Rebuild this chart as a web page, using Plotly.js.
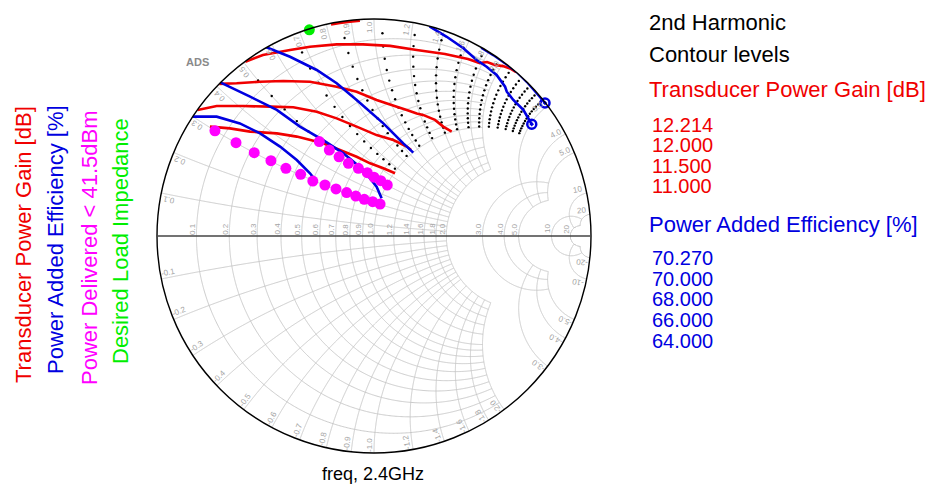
<!DOCTYPE html>
<html>
<head>
<meta charset="utf-8">
<script src="https://cdn.plot.ly/plotly-3.0.1.min.js"></script>
<style>
  html, body { margin: 0; padding: 0; background: #ffffff; }
  #chart { width: 932px; height: 486px; }
</style>
</head>
<body>
<div id="chart"></div>
<script>
// Load-pull results at 2.4 GHz, 2nd harmonic, as reflection coefficients (re, im)

// Transducer power gain contours [dB]
const gainLevels = ['12.214', '12.000', '11.500', '11.000'];
const gain12214Re = [-0.198, -0.157, -0.111, -0.065];
const gain12214Im = [0.975, 0.982, 0.988, 0.992];
const gain12000Re = [-0.593, -0.512, -0.387, -0.295, -0.172, -0.051, 0.074, 0.197, 0.327, 0.433, 0.488, 0.521, 0.558, 0.594, 0.627, 0.655];
const gain12000Im = [0.803, 0.834, 0.857, 0.872, 0.883, 0.883, 0.876, 0.857, 0.839, 0.816, 0.797, 0.802, 0.788, 0.783, 0.772, 0.755];
const gain11500Re = [-0.713, -0.633, -0.525, -0.418, -0.295, -0.172, -0.080, 0.012, 0.105, 0.151, 0.197, 0.226, 0.281, 0.319, 0.358];
const gain11500Im = [0.701, 0.704, 0.711, 0.714, 0.711, 0.688, 0.665, 0.627, 0.596, 0.581, 0.565, 0.558, 0.535, 0.504, 0.481];
const gain11000aRe = [-0.813, -0.725, -0.602, -0.479, -0.372, -0.264, -0.172, -0.080, 0.012, 0.089, 0.151, 0.171];
const gain11000aIm = [0.581, 0.599, 0.599, 0.596, 0.593, 0.573, 0.542, 0.504, 0.465, 0.442, 0.412, 0.396];
const gain11000bRe = [-0.756, -0.664, -0.571, -0.448, -0.356, -0.234, -0.157, -0.080, -0.018, 0.043, 0.097];
const gain11000bIm = [0.504, 0.496, 0.481, 0.473, 0.458, 0.427, 0.396, 0.365, 0.335, 0.312, 0.289];

// Power added efficiency contours [%]
const paeLevels = ['70.270', '70.000', '68.000', '66.000', '64.000'];
const pae70270Re = [0.494, 0.550, 0.604, 0.614, 0.658, 0.704, 0.750, 0.788];
const pae70270Im = [0.868, 0.834, 0.796, 0.789, 0.757, 0.711, 0.658, 0.613];
const pae70000Re = [0.256, 0.335, 0.412, 0.473, 0.519, 0.565, 0.604, 0.612, 0.642, 0.688, 0.727];
const pae70000Im = [0.966, 0.918, 0.865, 0.811, 0.780, 0.742, 0.688, 0.665, 0.627, 0.581, 0.515];
const pae68000Re = [-0.502, -0.387, -0.264, -0.172, -0.080, 0.043, 0.135, 0.181];
const pae68000Im = [0.872, 0.826, 0.765, 0.704, 0.627, 0.519, 0.427, 0.384];
const pae66000Re = [-0.706, -0.571, -0.448, -0.341, -0.234, -0.141, -0.049, 0.012, 0.035];
const pae66000Im = [0.707, 0.642, 0.581, 0.504, 0.442, 0.381, 0.304, 0.227, 0.174];
const pae64000Re = [-0.835, -0.725, -0.618, -0.525, -0.433, -0.356, -0.295, -0.264];
const pae64000Im = [0.550, 0.550, 0.519, 0.473, 0.412, 0.350, 0.289, 0.250];

// Points of maximum PAE
const paeMaxRe = [0.727, 0.788];
const paeMaxIm = [0.515, 0.613];

// Loads where delivered power falls below 41.5 dBm
const lowPowerRe = [-0.733, -0.636, -0.552, -0.475, -0.406, -0.338, -0.282, -0.226, -0.175, -0.126, -0.084, -0.045, -0.006, 0.028,
                    -0.252, -0.206, -0.161, -0.118, -0.072, -0.031, 0.000, 0.031, 0.061];
const lowPowerIm = [0.485, 0.430, 0.384, 0.347, 0.312, 0.284, 0.253, 0.235, 0.217, 0.200, 0.184, 0.169, 0.158, 0.147,
                    0.435, 0.396, 0.365, 0.335, 0.312, 0.292, 0.271, 0.255, 0.235];

// Desired load
const desiredRe = [-0.298];
const desiredIm = [0.950];

// Swept load impedances (normalized resistance and reactance)
const sweepR = [0.07, 0.14, 0.21, 0.28, 0.35, 0.42, 0.49, 0.56, 0.63, 0.70, 0.77, 0.84, 0.91, 0.98];
const sweepX = [0.50, 0.68, 0.86, 1.04, 1.22, 1.40, 1.58, 1.76, 1.94, 2.12, 2.30, 2.48, 2.66, 2.84];

// Smith chart grid: resistance circles / reactance arcs and where each family stops
const rTicks = [0.1, 0.2, 0.3, 0.4, 0.5, 0.6, 0.7, 0.8, 0.9, 1.0, 1.2, 1.4, 1.6, 1.8, 2.0, 3.0, 4.0, 5.0, 10, 20];
const rTickText = ['0.1', '0.2', '0.3', '0.4', '0.5', '0.6', '0.7', '0.8', '0.9', '1.0', '1.2', '1.4', '1.6', '1.8', '2.0', '3.0', '4.0', '5.0', '10', '20'];
const xTicks = [0.1, 0.2, 0.3, 0.4, 0.5, 0.6, 0.7, 0.8, 0.9, 1.0, 1.2, 1.4, 1.6, 1.8, 2.0, 3.0, 4.0, 5.0, 10, 20];
const xTickText = ['0.1', '0.2', '0.3', '0.4', '0.5', '0.6', '0.7', '0.8', '0.9', '1.0', '1.2', '1.4', '1.6', '1.8', '2.0', '3.0', '4.0', '5.0', '10', '20'];
const rLimit = [2, 2, 2, 2, 2, 2, 2, 2, 2, 2, 2, 2, 2, 2, 2, 5, 5, 5, 20, 20];   // max |x| drawn on each r circle
const xLimit = [2, 2, 2, 2, 2, 2, 2, 2, 2, 2, 2, 2, 2, 2, 2, 5, 5, 5, 20, 20];   // max r drawn on each x arc

const RED = '#f00000', BLUE = '#0000e0', MAGENTA = '#ff00ff', GREEN = '#00ee00';
const GRID = '#c6c6c6', TICK = '#a4a4a4';

// reflection coefficient -> normalized impedance z = (1 + G) / (1 - G)
function toZ(re, im) {
  const real = [], imag = [];
  for (let i = 0; i < re.length; i++) {
    const dr = 1 - re[i], di = -im[i];
    const nr = 1 + re[i], ni = im[i];
    const d = dr * dr + di * di;
    real.push((nr * dr + ni * di) / d);
    imag.push((ni * dr - nr * di) / d);
  }
  return { real, imag };
}

function contour(re, im, color, name) {
  const z = toZ(re, im);
  return { type: 'scattersmith', mode: 'lines', real: z.real, imag: z.imag, name,
           line: { color, width: 2.6 }, hoverinfo: 'name', showlegend: false };
}

// grid lines, sampled densely near the left of the chart where they curve most
const N = 400;
const gridTraces = [];
rTicks.forEach((r, i) => {
  const xm = rLimit[i], real = [], imag = [];
  for (let k = -N; k <= N; k++) { real.push(r); imag.push(Math.sign(k) * xm * (k / N) * (k / N)); }
  gridTraces.push({ type: 'scattersmith', mode: 'lines', real, imag, hoverinfo: 'skip', showlegend: false,
                    line: { color: GRID, width: 0.9 } });
});
xTicks.forEach((x, i) => {
  const rm = xLimit[i];
  [x, -x].forEach(xv => {
    const real = [], imag = [];
    for (let k = 0; k <= N; k++) { real.push(rm * (k / N) * (k / N)); imag.push(xv); }
    gridTraces.push({ type: 'scattersmith', mode: 'lines', real, imag, hoverinfo: 'skip', showlegend: false,
                      line: { color: GRID, width: 0.9 } });
  });
});

const sweepReal = [], sweepImag = [];
sweepX.forEach(x => sweepR.forEach(r => { sweepReal.push(r); sweepImag.push(x); }));

const lp = toZ(lowPowerRe, lowPowerIm);
const dl = toZ(desiredRe, desiredIm);
const pm = toZ(paeMaxRe, paeMaxIm);

const traces = gridTraces.concat([
  { type: 'scattersmith', mode: 'markers', real: sweepReal, imag: sweepImag, name: 'sweep',
    marker: { color: '#000', size: 2.4 }, showlegend: false, hoverinfo: 'skip' },
  contour(gain12214Re, gain12214Im, RED, gainLevels[0]),
  contour(gain12000Re, gain12000Im, RED, gainLevels[1]),
  contour(gain11500Re, gain11500Im, RED, gainLevels[2]),
  contour(gain11000aRe, gain11000aIm, RED, gainLevels[3]),
  contour(gain11000bRe, gain11000bIm, RED, gainLevels[3]),
  contour(pae70270Re, pae70270Im, BLUE, paeLevels[0]),
  contour(pae70000Re, pae70000Im, BLUE, paeLevels[1]),
  contour(pae68000Re, pae68000Im, BLUE, paeLevels[2]),
  contour(pae66000Re, pae66000Im, BLUE, paeLevels[3]),
  contour(pae64000Re, pae64000Im, BLUE, paeLevels[4]),
  { type: 'scattersmith', mode: 'markers', real: pm.real, imag: pm.imag, name: 'PAE max',
    marker: { color: BLUE, size: 9, symbol: 'circle-open-dot', line: { color: BLUE, width: 2.5 } }, showlegend: false },
  { type: 'scattersmith', mode: 'markers', real: lp.real, imag: lp.imag, name: 'Power Delivered < 41.5dBm',
    marker: { color: MAGENTA, size: 11 }, showlegend: false },
  { type: 'scattersmith', mode: 'markers', real: dl.real, imag: dl.imag, name: 'Desired Load Impedance',
    marker: { color: GREEN, size: 11 }, showlegend: false }
]);

const W = 932, H = 486;
const FONT = 'Liberation Sans, Arial, sans-serif';
// chart placement in pixels
const CX = 374, CY = 236, RAD = 217;

function label(text, px, py, size, color, opts) {
  return Object.assign({ text, x: px / W, y: 1 - py / H, xref: 'paper', yref: 'paper',
    showarrow: false, xanchor: 'left', yanchor: 'middle', font: { family: FONT, size, color } }, opts || {});
}

const annotations = [];
// resistance values along the horizontal axis, just left of each circle
rTicks.forEach((r, i) => {
  const g = (r - 1) / (r + 1);
  annotations.push(label(rTickText[i], CX + RAD * g - 4.5, CY - 7, 8, TICK,
    { xanchor: 'center', textangle: -90 }));
});
// reactance values just inside the rim, written along the radius
xTicks.forEach((x, i) => {
  [1, -1].forEach(s => {
    const xv = s * x;
    const gr = (xv * xv - 1) / (xv * xv + 1), gi = 2 * xv / (xv * xv + 1);
    const a = Math.atan2(gi, gr);
    const phi = a > 0 ? a : a + Math.PI;
    const rr = RAD - 8;
    // shift sideways toward the left half of the chart
    const t = s > 0 ? a + Math.PI / 2 : a - Math.PI / 2;
    const px = CX + rr * Math.cos(a) + 5 * Math.cos(t);
    const py = CY - rr * Math.sin(a) - 5 * Math.sin(t);
    annotations.push(label((s < 0 ? '-' : '') + xTickText[i], px, py, 8, TICK,
      { xanchor: 'center', textangle: -phi * 180 / Math.PI }));
  });
});

annotations.push(
  label('ADS', 197, 62, 11, '#8a8a8a', { xanchor: 'center', font: { family: FONT, size: 11, color: '#8a8a8a', weight: 'bold' } }),
  label('freq, 2.4GHz', 373, 474, 18, '#000', { xanchor: 'center' }),
  label('Transducer Power Gain [dB]', 23, 245, 22, RED, { xanchor: 'center', textangle: -90 }),
  label('Power Added Efficiency [%]', 55, 240, 22, BLUE, { xanchor: 'center', textangle: -90 }),
  label('Power Delivered < 41.5dBm', 89, 248, 22, MAGENTA, { xanchor: 'center', textangle: -90 }),
  label('Desired Load Impedance', 120, 241, 22, GREEN, { xanchor: 'center', textangle: -90 }),
  label('2nd Harmonic', 647, 22, 22, '#000'),
  label('Contour levels', 647, 55, 22, '#000'),
  label('Transducer Power Gain [dB]', 647, 89, 22, RED),
  label('Power Added Efficiency [%]', 647, 224, 22, BLUE)
);
gainLevels.forEach((t, i) => annotations.push(label(t, 650, 125 + i * 20.3, 20, RED)));
paeLevels.forEach((t, i) => annotations.push(label(t, 650, 258 + i * 20.7, 20, BLUE)));

const layout = {
  width: W, height: H,
  margin: { l: 0, r: 0, t: 0, b: 0 },
  paper_bgcolor: '#fff',
  showlegend: false,
  font: { family: FONT },
  smith: {
    domain: { x: [(CX - RAD) / W, (CX + RAD) / W], y: [1 - (CY + RAD) / H, 1 - (CY - RAD) / H] },
    bgcolor: '#fff',
    realaxis: {
      showgrid: false, showticklabels: false, ticks: '',
      showline: true, linecolor: '#444', linewidth: 1.3
    },
    imaginaryaxis: {
      showgrid: false, showticklabels: false, ticks: '',
      showline: true, linecolor: '#000', linewidth: 1.4
    }
  },
  annotations
};

Plotly.newPlot('chart', traces, layout, { displayModeBar: false, staticPlot: true });
</script>
</body>
</html>
